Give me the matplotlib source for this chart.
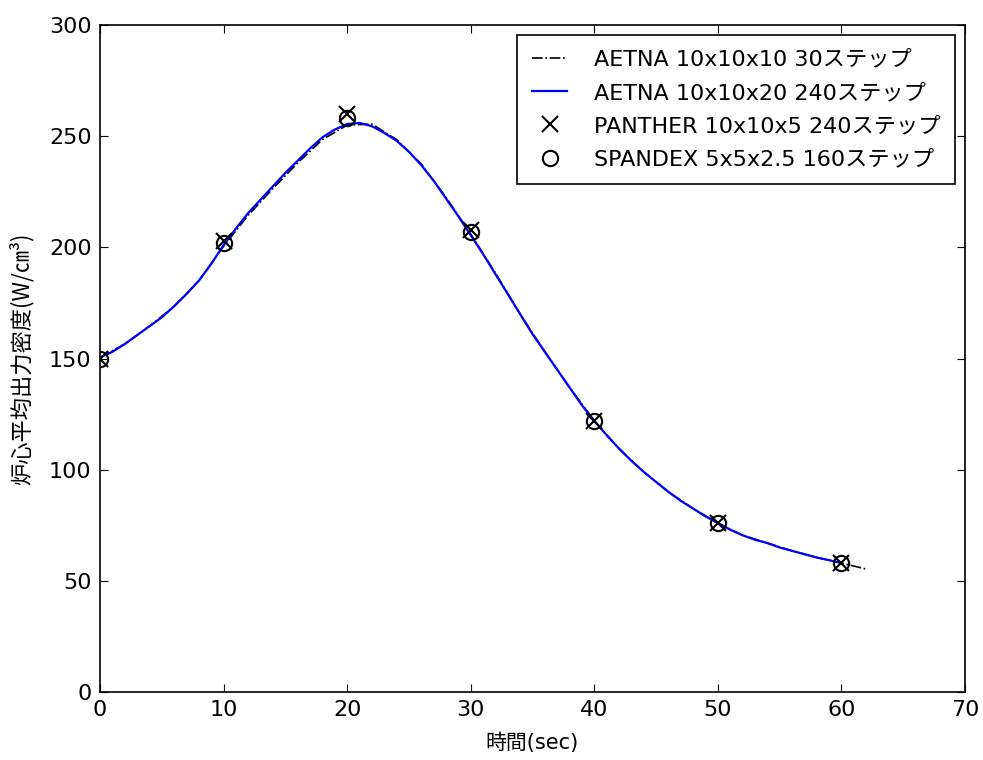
import matplotlib

matplotlib.use("Agg")
import matplotlib.pyplot as plt  # noqa: E402

plt.rcParams["font.family"] = ["DejaVu Sans", "Noto Sans CJK JP"]

# AETNA 10x10x10 30ステップ (dash-dot, runs slightly past 60 s)
aetna30_t = [0, 2, 4, 6, 8, 10, 12, 14, 16, 18, 20, 22, 24, 26, 28, 30,
             32, 34, 36, 38, 40, 42, 44, 46, 48, 50, 52, 54, 56, 58, 60, 62]
aetna30_p = [150.5, 156.5, 164.5, 173.5, 185, 200.5, 214.5, 226.5, 238, 248.5,
             255, 255.5, 248.5, 237.5, 222.5, 206, 188.5, 170, 153, 137, 122,
             109.5, 99, 90, 82.5, 76, 70.5, 67, 63.5, 60.5, 58, 55.3]

# AETNA 10x10x20 240ステップ (blue solid)
aetna240_t = list(range(0, 61))
aetna240_p = [150.5, 153, 156.5, 160.5, 164.5, 168.5, 173.5, 179, 185, 192.5,
              201, 208.5, 215.5, 221.5, 227.5, 233.5, 239, 244.5, 249.5, 253,
              255.5, 256, 254.5, 251.5, 248, 243, 237, 230, 222, 214,
              205.5, 197, 188, 179, 170, 161, 153, 145, 137, 129,
              122, 115.5, 109.5, 104, 99, 94.5, 90, 86, 82.5, 79,
              76, 73, 70.5, 68.5, 67, 65, 63.5, 62, 60.5, 59.3,
              58]

# PANTHER 10x10x5 240ステップ
panther_t = [0, 10, 20, 30, 40, 50, 60]
panther_p = [150, 203, 260, 208, 122, 76, 58]

# SPANDEX 5x5x2.5 160ステップ
spandex_t = [0, 10, 20, 30, 40, 50, 60]
spandex_p = [150, 202, 258, 207, 122, 76, 58]

fig = plt.figure(figsize=(9.83, 7.6), dpi=100)
ax = fig.add_axes([0.1017, 0.0895, 0.88, 0.8775])

ax.plot(aetna30_t, aetna30_p, color="black", linestyle="-.", linewidth=1.2,
        label="AETNA 10x10x10 30ステップ")
ax.plot(aetna240_t, aetna240_p, color="blue", linestyle="-", linewidth=1.6,
        label="AETNA 10x10x20 240ステップ")
ax.plot(panther_t, panther_p, linestyle="none", marker="x", markersize=11,
        markeredgewidth=1.5, color="black", label="PANTHER 10x10x5 240ステップ")
ax.plot(spandex_t, spandex_p, linestyle="none", marker="o", markersize=11,
        markeredgewidth=1.5, markerfacecolor="none", markeredgecolor="black",
        label="SPANDEX 5x5x2.5 160ステップ")

ax.set_xlim(0, 70)
ax.set_ylim(0, 300)
ax.set_xticks(range(0, 71, 10))
ax.set_yticks(range(0, 301, 50))
ax.tick_params(direction="in", top=True, right=True, length=6, pad=6,
               labelsize=16)
for s in ax.spines.values():
    s.set_linewidth(1.2)

ax.set_xlabel("時間(sec)", fontsize=15)
ax.set_ylabel("炉心平均出力密度(W/㎝³)", fontsize=16,
              family=["Noto Sans CJK JP", "DejaVu Sans"])
ax.xaxis.set_label_coords(0.5, -0.061)
ax.yaxis.set_label_coords(-0.077, 0.5)

leg = ax.legend(loc="upper right", fontsize=16, fancybox=False, framealpha=1,
                edgecolor="black", numpoints=1, handlelength=1.6,
                handletextpad=1.2, labelspacing=0.6, borderpad=0.65,
                borderaxespad=0.45)
leg.get_frame().set_linewidth(1.2)

fig.savefig("out.png", dpi=100)
